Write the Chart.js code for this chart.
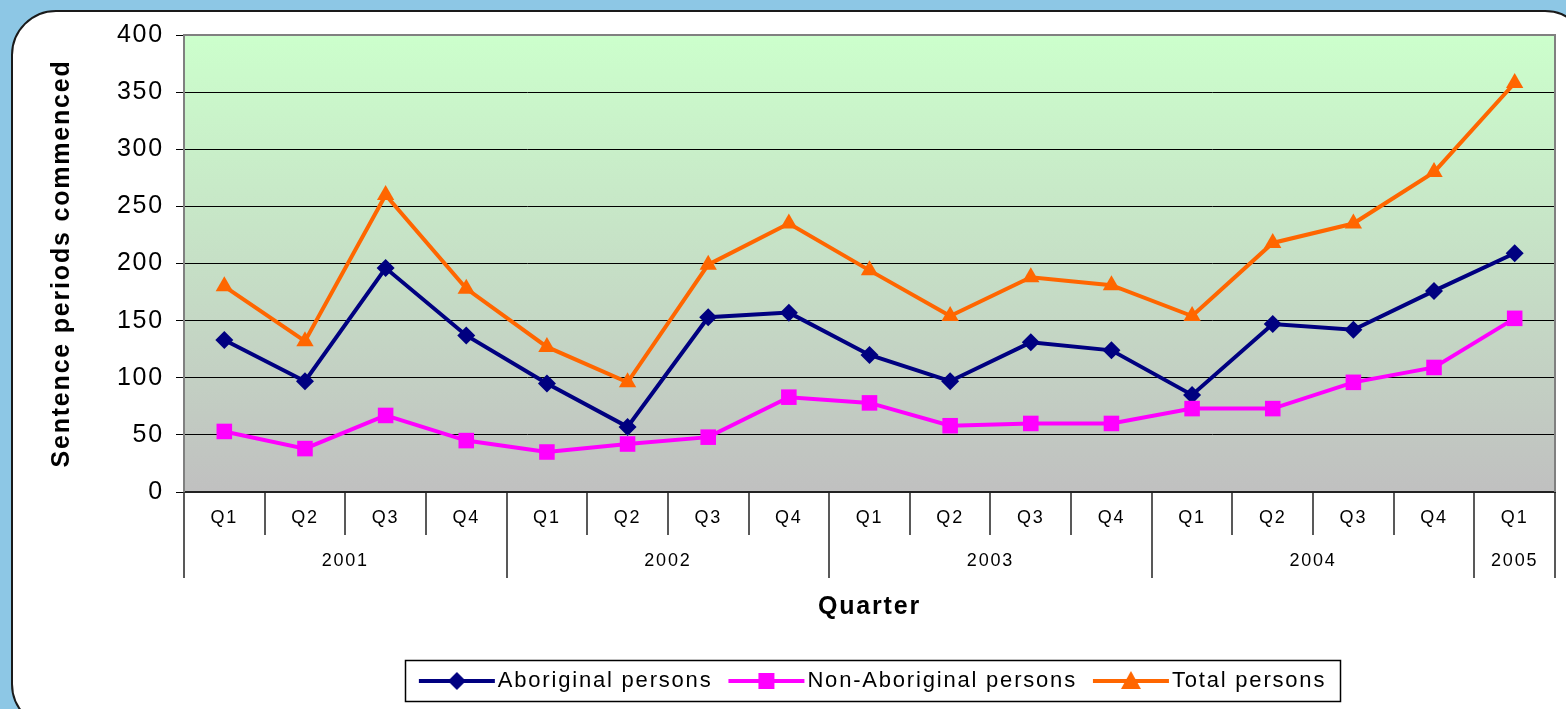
<!DOCTYPE html>
<html lang="en">
<head>
    <meta charset="UTF-8">
    <title>Sentence periods commenced by quarter</title>
    <script src="https://cdn.jsdelivr.net/npm/chart.js"></script>
    <style>
        html, body {
            margin: 0;
            padding: 0;
            width: 1566px;
            height: 709px;
            overflow: hidden;
            background: #8dc7e5;
        }
        .panel {
            position: absolute;
            left: 11px;
            top: 10px;
            width: 1575px;
            height: 715px;
            background: #fff;
            border: 2px solid #1a1a1a;
            border-radius: 45px;
        }
        #chart {
            position: absolute;
            left: 13px;
            top: 12px;
        }
    </style>
</head>
<body>
<div class="panel"></div>
<canvas id="chart" width="1553" height="697"></canvas>

<script>
    // quarter / year labels for each category
    const quarters = ["Q1", "Q2", "Q3", "Q4", "Q1", "Q2", "Q3", "Q4", "Q1", "Q2", "Q3", "Q4", "Q1", "Q2", "Q3", "Q4", "Q1"];
    const years = ["2001", "2001", "2001", "2001", "2002", "2002", "2002", "2002",
                   "2003", "2003", "2003", "2003", "2004", "2004", "2004", "2004", "2005"];

    // values
    const aboriginal = [133, 97, 196, 137, 95, 57, 153, 157, 120, 97, 131, 124, 85, 147, 142, 176, 209];
    const nonAboriginal = [53, 38, 67, 45, 35, 42, 48, 83, 78, 58, 60, 60, 73, 73, 96, 109, 152];
    const total = [180, 132, 260, 178, 127, 96, 199, 235, 194, 154, 188, 181, 154, 218, 235, 280, 358];

    const yTicks = { min: 0, max: 400, step: 50 };

    const FONT = '"Liberation Sans", Arial, sans-serif';
    const SPACING = "1.8px";

    // little line+marker pictures for the legend
    function legendIcon(color, shape) {
        const c = document.createElement("canvas");
        c.width = 92;
        c.height = 24;
        const g = c.getContext("2d");
        g.strokeStyle = color;
        g.lineWidth = 4;
        g.beginPath();
        g.moveTo(15, 12);
        g.lineTo(91, 12);
        g.stroke();
        g.fillStyle = color;
        const cx = 53, cy = 12;
        g.beginPath();
        if (shape === "diamond") {
            g.moveTo(cx, cy - 9); g.lineTo(cx + 9, cy); g.lineTo(cx, cy + 9); g.lineTo(cx - 9, cy);
        } else if (shape === "square") {
            g.rect(cx - 8, cy - 8, 16, 16);
        } else {
            g.moveTo(cx, cy - 10); g.lineTo(cx + 10, cy + 8); g.lineTo(cx - 10, cy + 8);
        }
        g.closePath();
        g.fill();
        return c;
    }
    const icons = [
        legendIcon("#000080", "diamond"),
        legendIcon("#ff00ff", "square"),
        legendIcon("#ff6600", "triangle")
    ];

    // Excel-like text spacing + gradient plot background + plot frame
    const plotDecor = {
        id: "plotDecor",
        beforeLayout(chart) {
            chart.ctx.letterSpacing = SPACING;
        },
        beforeDraw(chart) {
            const { ctx, chartArea: a } = chart;
            ctx.letterSpacing = SPACING;
            const grad = ctx.createLinearGradient(0, a.top, 0, a.bottom);
            grad.addColorStop(0, "#ccffcc");
            grad.addColorStop(1, "#c0c0c0");
            ctx.save();
            ctx.fillStyle = grad;
            ctx.fillRect(a.left, a.top, a.right - a.left, a.bottom - a.top);
            ctx.restore();
        },
        beforeDatasetsDraw(chart) {
            const { ctx, chartArea: a } = chart;
            ctx.save();
            ctx.strokeStyle = "#808080";
            ctx.lineWidth = 2;
            ctx.beginPath();
            ctx.moveTo(a.left, a.top);
            ctx.lineTo(a.right, a.top);
            ctx.lineTo(a.right, a.bottom);
            ctx.stroke();
            ctx.restore();
        }
    };

    // two-level category axis: separators and year row
    const categoryGroups = {
        id: "categoryGroups",
        afterDraw(chart) {
            const { ctx } = chart;
            const x = chart.scales.x;
            const top = x.top;
            ctx.save();
            ctx.strokeStyle = "#222";
            ctx.lineWidth = 1.5;
            for (let i = 0; i <= quarters.length; i++) {
                const px = Math.round(x.getPixelForValue(i - 0.5));
                const yearEdge = i === 0 || i === quarters.length || years[i] !== years[i - 1];
                ctx.beginPath();
                ctx.moveTo(px, top);
                ctx.lineTo(px, top + (yearEdge ? 86 : 43));
                ctx.stroke();
            }
            ctx.font = "18px " + FONT;
            ctx.fillStyle = "#000";
            ctx.textAlign = "center";
            ctx.textBaseline = "middle";
            ctx.letterSpacing = SPACING;
            let start = 0;
            for (let i = 1; i <= years.length; i++) {
                if (i === years.length || years[i] !== years[start]) {
                    const cx = (x.getPixelForValue(start - 0.5) + x.getPixelForValue(i - 0.5)) / 2;
                    ctx.fillText(years[start], cx, top + 69);
                    start = i;
                }
            }
            ctx.restore();
        }
    };

    // frame around the legend items
    const legendFrame = {
        id: "legendFrame",
        afterDraw(chart) {
            const lg = chart.legend;
            const boxes = lg.legendHitBoxes || [];
            if (!boxes.length) return;
            const left = Math.min(...boxes.map(b => b.left)) - 8;
            const right = Math.max(...boxes.map(b => b.left + b.width)) + 14;
            const ctx = chart.ctx;
            ctx.save();
            ctx.strokeStyle = "#000";
            ctx.lineWidth = 1.5;
            ctx.strokeRect(Math.round(left) + 0.5, lg.top + 0.5, Math.round(right - left), lg.height - 1);
            ctx.restore();
        }
    };

    const ctx = document.getElementById("chart").getContext("2d");

    new Chart(ctx, {
        type: "line",
        data: {
            labels: quarters,
            datasets: [
                {
                    label: "Aboriginal persons",
                    data: aboriginal,
                    borderColor: "#000080",
                    backgroundColor: "#000080",
                    pointStyle: "rectRot",
                    pointRadius: 9,
                    order: 3
                },
                {
                    label: "Non-Aboriginal persons",
                    data: nonAboriginal,
                    borderColor: "#ff00ff",
                    backgroundColor: "#ff00ff",
                    pointStyle: "rect",
                    pointRadius: 11,
                    order: 2
                },
                {
                    label: "Total persons",
                    data: total,
                    borderColor: "#ff6600",
                    backgroundColor: "#ff6600",
                    pointStyle: "triangle",
                    pointRadius: 10,
                    order: 1
                }
            ]
        },
        options: {
            responsive: false,
            animation: false,
            elements: {
                line: { borderWidth: 4, tension: 0, fill: false },
                point: { borderWidth: 0, hoverRadius: 10 }
            },
            layout: {
                padding: { left: 30, top: 23, right: 8, bottom: 7 }
            },
            scales: {
                x: {
                    type: "category",
                    offset: true,
                    grid: { display: false, drawTicks: false },
                    border: { display: true, color: "#222", width: 2 },
                    ticks: {
                        color: "#000",
                        font: { family: FONT, size: 18 },
                        padding: 15,
                        maxRotation: 0,
                        autoSkip: false
                    },
                    title: {
                        display: true,
                        text: "Quarter",
                        color: "#000",
                        font: { family: FONT, size: 25, weight: "bold" },
                        padding: { top: 0, bottom: 38 }
                    },
                    afterFit(scale) {
                        scale.height = 168;
                    }
                },
                y: {
                    min: yTicks.min,
                    max: yTicks.max,
                    grid: { color: "#000", lineWidth: 1, tickLength: 8, tickColor: "#000" },
                    border: { display: true, color: "#808080", width: 2 },
                    ticks: {
                        stepSize: yTicks.step,
                        color: "#000",
                        font: { family: FONT, size: 25 },
                        padding: 12
                    },
                    title: {
                        display: true,
                        text: "Sentence periods commenced",
                        color: "#000",
                        font: { family: FONT, size: 25, weight: "bold" },
                        padding: { top: 4, bottom: 0 }
                    },
                    afterFit(scale) {
                        scale.width = 141;
                        scale.paddingTop = 0;
                        scale.paddingBottom = 0;
                    }
                }
            },
            plugins: {
                legend: {
                    position: "bottom",
                    fullSize: false,
                    labels: {
                        usePointStyle: true,
                        pointStyleWidth: 74,
                        padding: 10,
                        color: "#000",
                        font: { family: FONT, size: 22 },
                        sort: (a, b) => a.datasetIndex - b.datasetIndex,
                        generateLabels(chart) {
                            const items = Chart.defaults.plugins.legend.labels.generateLabels(chart);
                            items.forEach(item => { item.pointStyle = icons[item.datasetIndex]; });
                            return items;
                        }
                    }
                },
                tooltip: { enabled: false }
            }
        },
        plugins: [plotDecor, categoryGroups, legendFrame]
    });
</script>
</body>
</html>
